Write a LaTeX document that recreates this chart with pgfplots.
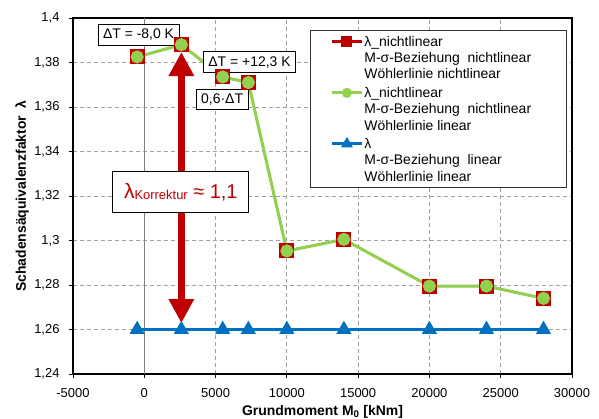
\documentclass[border=0pt]{standalone}
\usepackage{fontspec}
\setmainfont{Liberation Sans}
\usepackage{pgfplots}
\pgfplotsset{compat=1.18}
\usetikzlibrary{arrows.meta}
\definecolor{cRed}{HTML}{C00000}
\definecolor{cGreen}{HTML}{92D050}
\definecolor{cBlue}{HTML}{0070C0}
\definecolor{cGrid}{HTML}{A0A0A0}
\newcommand{\gs}{\rule{0pt}{13bp}}
\newcommand{\rs}{\rule{0pt}{10.5bp}}
\begin{document}
\begin{tikzpicture}
\begin{axis}[
  scale only axis, width=499bp, height=356bp,
  xmin=-5000, xmax=30000, ymin=1.24, ymax=1.4,
  xtick={-5000,0,5000,10000,15000,20000,25000,30000},
  ytick={1.24,1.26,1.28,1.3,1.32,1.34,1.36,1.38,1.4},
  scaled x ticks=false, scaled y ticks=false,
  /pgf/number format/assume math mode=true,
  xticklabel style={/pgf/number format/1000 sep={}, font=\fontsize{13}{15}\selectfont, yshift=-7bp},
  yticklabel style={/pgf/number format/use comma, /pgf/number format/fixed, /pgf/number format/precision=2, font=\fontsize{13}{15}\selectfont, xshift=-6bp},
  tick align=outside, xtick pos=left, ytick pos=left,
  major tick length=4bp, tick style={black, line width=0.8bp},
  axis line style={line width=1.6bp},
  grid=major, major grid style={cGrid, dash pattern=on 4bp off 3bp, line width=0.8bp},
  every axis x label/.style={at={(axis description cs:0.5,0)}, yshift=-38bp, anchor=center},
  every axis y label/.style={at={(axis description cs:0,0.5)}, xshift=-51bp, anchor=center, rotate=90},
  xlabel={\fontsize{14}{16}\selectfont\bfseries Grundmoment M\textsubscript{0} [kNm]},
  ylabel={\fontsize{14}{16}\selectfont\bfseries Schadensäquivalenzfaktor\ \ λ},
  legend cell align=left,
  legend image code/.code={\draw[mark repeat=2, mark phase=2] plot coordinates {(0bp,0bp) (15bp,0bp) (30bp,0bp)};},
  legend style={at={(0.475,0.966)}, anchor=north west, draw=black!80, line width=0.8bp,
    inner xsep=20bp, inner ysep=3bp, row sep=2.2bp,
    font=\fontsize{14}{16}\selectfont,
    nodes={inner xsep=1bp, inner ysep=0pt, text depth=3.5bp}},
]
\addplot[forget plot, color=gray, line width=1bp] coordinates {(0,1.24) (0,1.4)};
% data
\addplot[forget plot, cRed, line width=2bp, mark=square*, mark size=6.5bp, mark options={draw=cRed, fill=cRed}] coordinates {
(-500,1.3825) (2600,1.388) (5500,1.3735) (7300,1.371) (10000,1.2953) (14000,1.3005) (20000,1.2795) (24000,1.2795) (28000,1.274)};
\addplot[forget plot, cGreen, line width=3bp, mark=*, mark size=5bp, mark options={draw=cGreen, fill=cGreen}] coordinates {
(-500,1.3825) (2600,1.388) (5500,1.3735) (7300,1.371) (10000,1.2953) (14000,1.3005) (20000,1.2795) (24000,1.2795) (28000,1.274)};
\addplot[forget plot, cBlue, line width=3bp, mark=triangle*, mark size=5.8bp, mark options={draw=cBlue, fill=cBlue}] coordinates {
(-500,1.26) (2600,1.26) (5500,1.26) (7300,1.26) (10000,1.26) (14000,1.26) (20000,1.26) (24000,1.26) (28000,1.26)};
% legend
\addlegendimage{cRed, line width=3bp, mark=square*, mark size=4bp, mark options={draw=cRed, fill=cRed}}
\addlegendentry{\gs λ\_nichtlinear}
\addlegendimage{empty legend}\addlegendentry{\rs M-σ-Beziehung\ \ nichtlinear\hspace*{14bp}}
\addlegendimage{empty legend}\addlegendentry{\rs Wöhlerlinie nichtlinear}
\addlegendimage{cGreen, line width=3bp, mark=*, mark size=3.5bp, mark options={draw=cGreen, fill=cGreen}}
\addlegendentry{\gs λ\_nichtlinear}
\addlegendimage{empty legend}\addlegendentry{\rs M-σ-Beziehung\ \ nichtlinear}
\addlegendimage{empty legend}\addlegendentry{\rs Wöhlerlinie linear}
\addlegendimage{cBlue, line width=3bp, mark=triangle*, mark size=4bp, mark options={draw=cBlue, fill=cBlue}}
\addlegendentry{\gs λ}
\addlegendimage{empty legend}\addlegendentry{\rs M-σ-Beziehung\ \ linear}
\addlegendimage{empty legend}\addlegendentry{\rs Wöhlerlinie linear}
% annotations
\draw[cRed, line width=7bp, {Triangle[width=24bp,length=24bp]}-{Triangle[width=24bp,length=24bp]}] (axis cs:2600,1.2629) -- (axis cs:2600,1.3847);
\node[draw=black, line width=1bp, fill=white, font=\fontsize{14}{16}\selectfont, inner xsep=5bp, minimum height=20.5bp] at (axis cs:-400,1.3924) {ΔT = -8,0 K};
\node[draw=black, line width=1bp, fill=white, font=\fontsize{14}{16}\selectfont, inner xsep=5bp, minimum height=20.5bp] at (axis cs:7380,1.3802) {ΔT = +12,3 K};
\node[draw=black, line width=1bp, fill=white, font=\fontsize{14}{16}\selectfont, inner xsep=5bp, minimum height=20.5bp] at (axis cs:5460,1.3634) {0,6·ΔT};
\node[draw=black, line width=1.2bp, fill=white, text=cRed, minimum width=136bp, minimum height=41bp, inner sep=0pt] at (axis cs:2560,1.3218)
  {{\fontsize{21}{24}\selectfont λ}\raisebox{-1.5bp}{\fontsize{13}{15}\selectfont Korrektur}\fontsize{20}{24}\selectfont\ ≈ 1,1};
\coordinate (SW) at (rel axis cs:0,0);
\coordinate (NE) at (rel axis cs:1,1);
\end{axis}
\pgfresetboundingbox
\path[use as bounding box] (SW) ++(-73bp,-45bp) rectangle ([shift={(27bp,18bp)}]NE);
\end{tikzpicture}
\end{document}
